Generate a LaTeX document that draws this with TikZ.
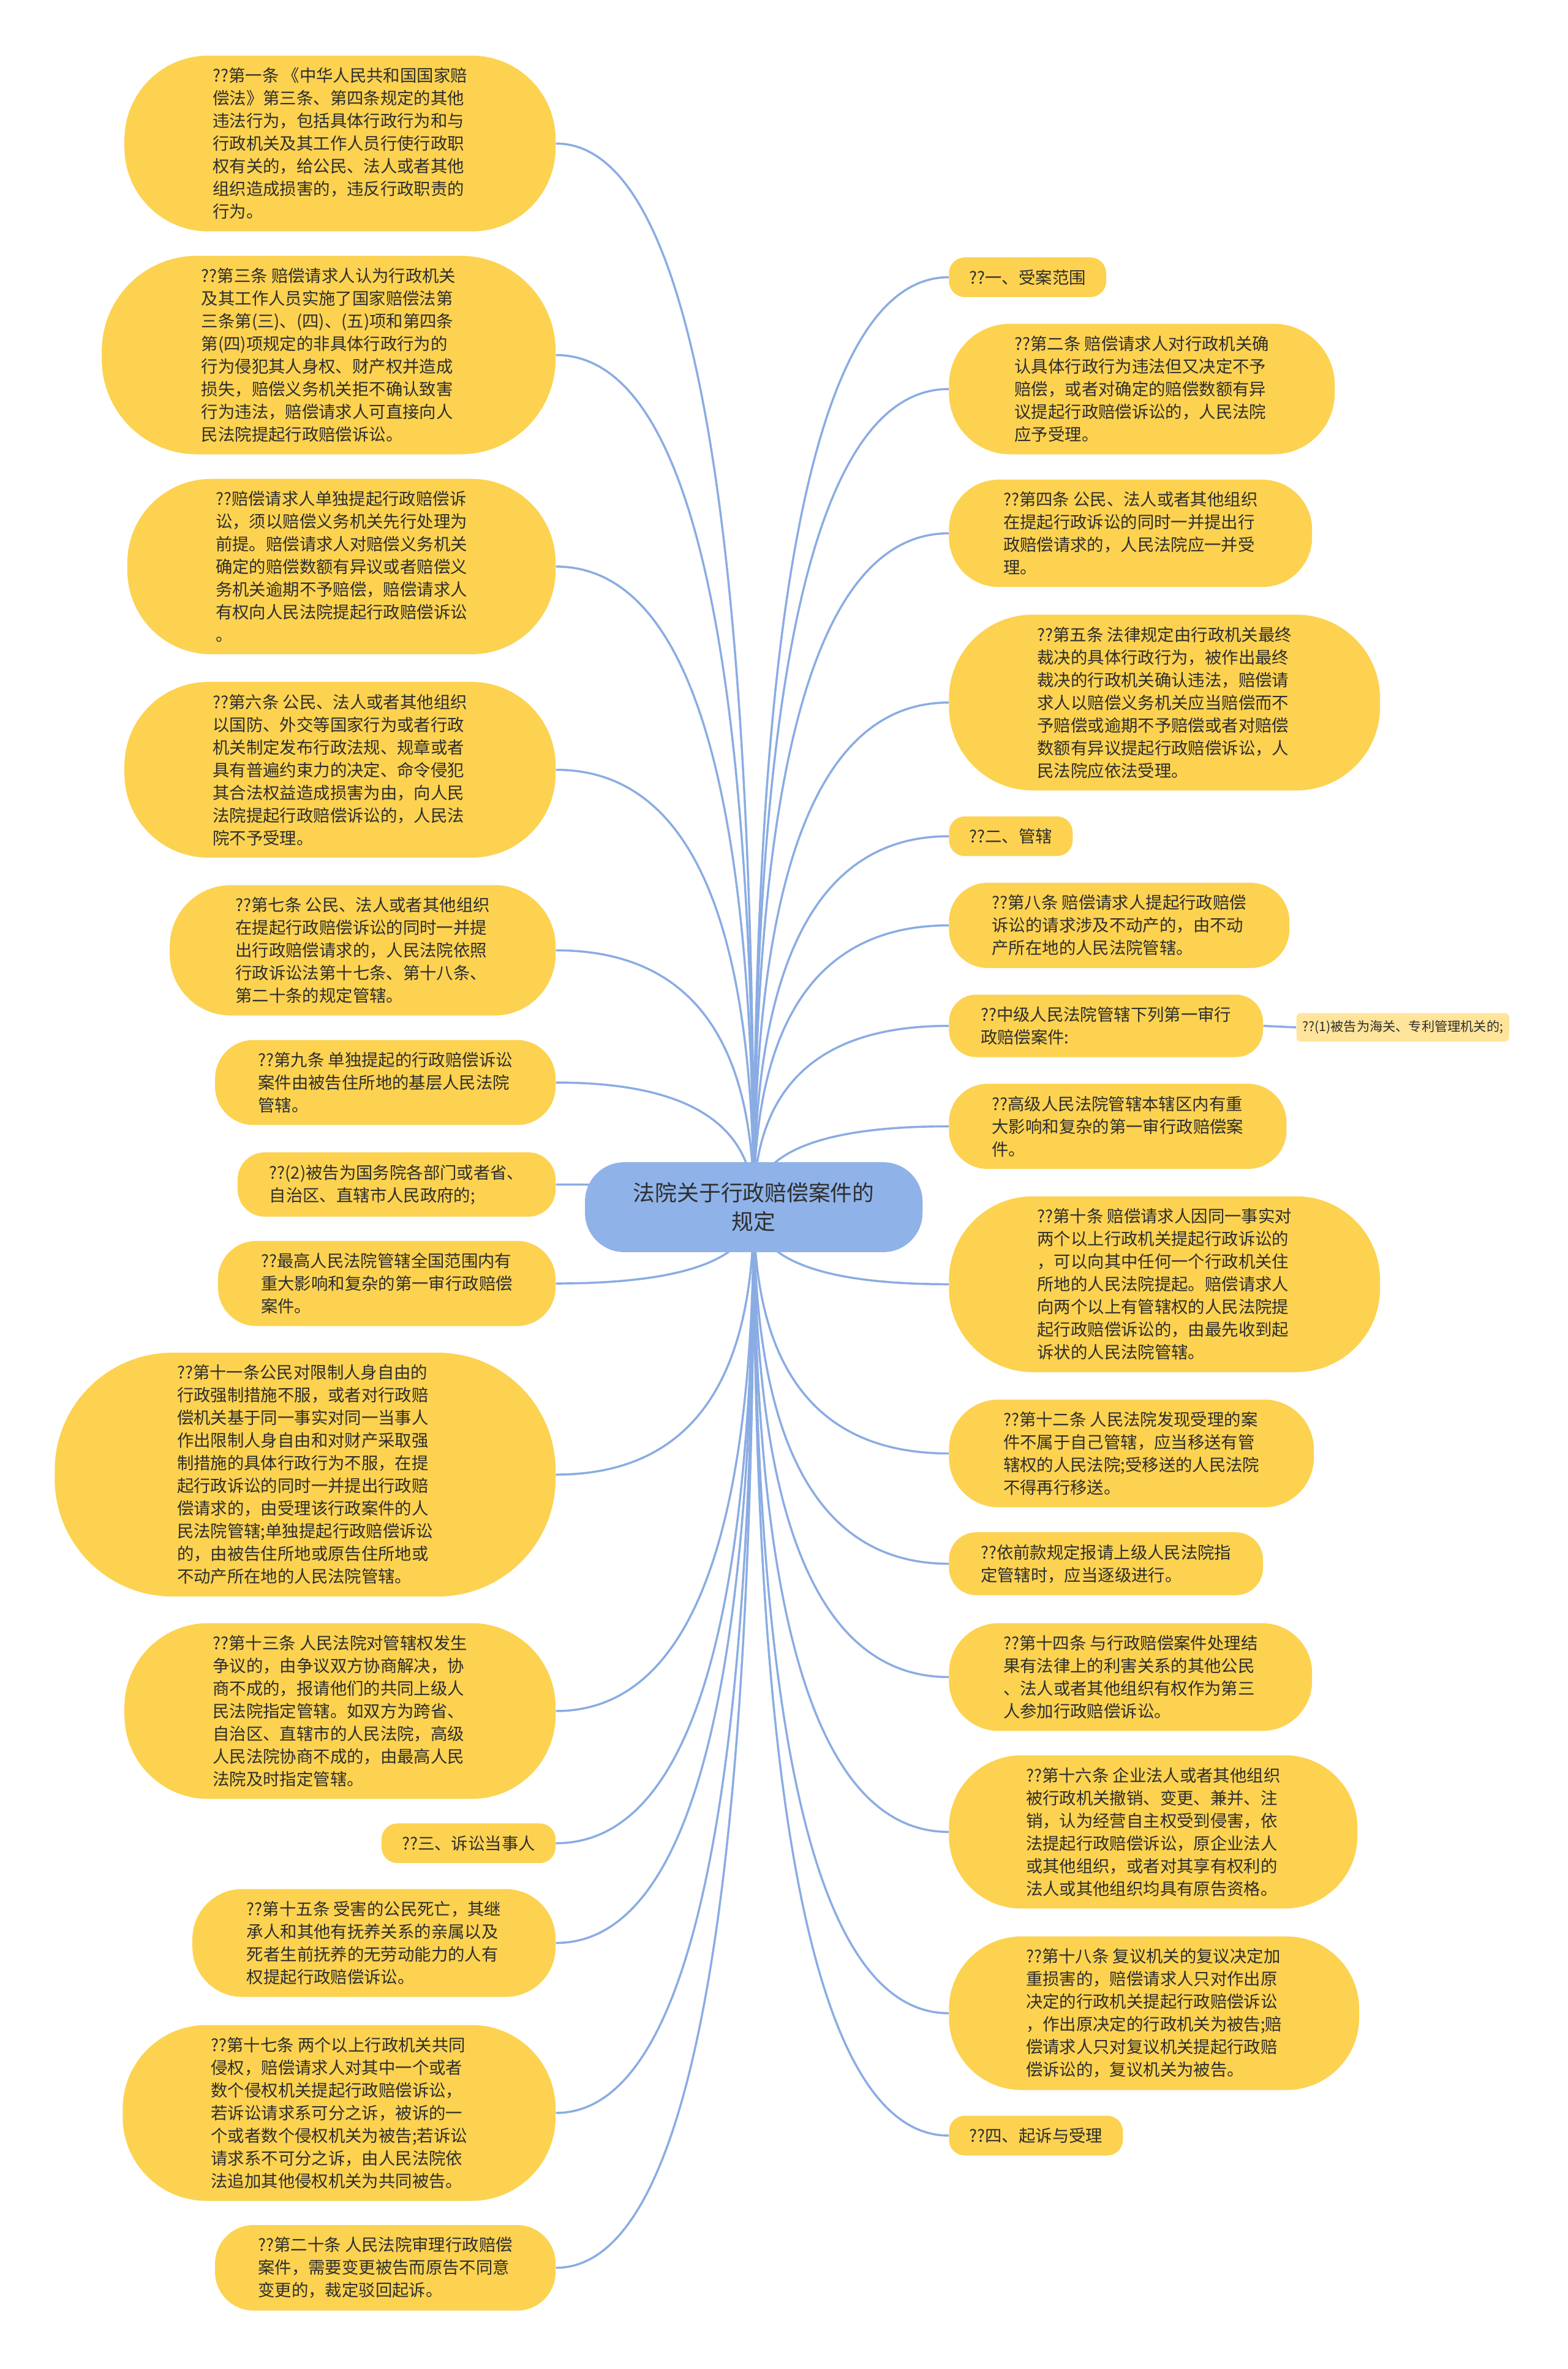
\documentclass[tikz,border=0pt]{standalone}
\usepackage{fontspec}
\setmainfont{Noto Sans CJK SC}
\usepackage{tikz}
\usetikzlibrary{calc,backgrounds}
\definecolor{topicfill}{HTML}{FCD250}
\definecolor{rootfill}{HTML}{8FB3E9}
\definecolor{linkblue}{HTML}{8AACE3}
\definecolor{leaffill}{HTML}{FFE59B}
\definecolor{textdark}{HTML}{2E2E2E}
% topic=<number of lines>
\tikzset{topic/.style={rectangle, fill=topicfill, text=textdark, align=left, inner xsep={7.5pt*#1+6pt}, inner ysep=8pt, rounded corners={7.5pt*#1+3pt}, font={\fontsize{11.1pt}{15pt}\selectfont}}}
\tikzstyle{rootbox} = [rectangle, fill=rootfill, text=textdark, align=center, inner xsep=32pt, inner ysep=13.5pt, rounded corners=26pt, font={\fontsize{14.5pt}{19pt}\selectfont}]
\tikzstyle{leaf} = [rectangle, rounded corners=3pt, fill=leaffill, text=textdark, inner xsep=4pt, inner ysep=5pt, font={\fontsize{8.6pt}{10pt}\selectfont}]
\tikzstyle{link} = [linkblue, line width=1.4pt]

\begin{document}
\begin{tikzpicture}[x=1pt, y=-1pt]
\useasboundingbox (0,0) rectangle (1038,1568);
\node[rootbox] (root) at (499,799) {法院关于行政赔偿案件的\\规定};
% left side
\node[topic=7, anchor=east] (l1) at (368,95) {??第一条 《中华人民共和国国家赔\\偿法》第三条、第四条规定的其他\\违法行为，包括具体行政行为和与\\行政机关及其工作人员行使行政职\\权有关的，给公民、法人或者其他\\组织造成损害的，违反行政职责的\\行为。};
\node[topic=8, anchor=east] (l2) at (368,235) {??第三条 赔偿请求人认为行政机关\\及其工作人员实施了国家赔偿法第\\三条第(三)、(四)、(五)项和第四条\\第(四)项规定的非具体行政行为的\\行为侵犯其人身权、财产权并造成\\损失，赔偿义务机关拒不确认致害\\行为违法，赔偿请求人可直接向人\\民法院提起行政赔偿诉讼。};
\node[topic=7, anchor=east] (l3) at (368,375) {??赔偿请求人单独提起行政赔偿诉\\讼，须以赔偿义务机关先行处理为\\前提。赔偿请求人对赔偿义务机关\\确定的赔偿数额有异议或者赔偿义\\务机关逾期不予赔偿，赔偿请求人\\有权向人民法院提起行政赔偿诉讼\\。};
\node[topic=7, anchor=east] (l4) at (368,509.5) {??第六条 公民、法人或者其他组织\\以国防、外交等国家行为或者行政\\机关制定发布行政法规、规章或者\\具有普遍约束力的决定、命令侵犯\\其合法权益造成损害为由，向人民\\法院提起行政赔偿诉讼的，人民法\\院不予受理。};
\node[topic=5, anchor=east] (l5) at (368,629) {??第七条 公民、法人或者其他组织\\在提起行政赔偿诉讼的同时一并提\\出行政赔偿请求的，人民法院依照\\行政诉讼法第十七条、第十八条、\\第二十条的规定管辖。};
\node[topic=3, anchor=east] (l6) at (368,716.5) {??第九条 单独提起的行政赔偿诉讼\\案件由被告住所地的基层人民法院\\管辖。};
\node[topic=2, anchor=east] (l7) at (368,784) {??(2)被告为国务院各部门或者省、\\自治区、直辖市人民政府的;};
\node[topic=3, anchor=east] (l8) at (368,849.5) {??最高人民法院管辖全国范围内有\\重大影响和复杂的第一审行政赔偿\\案件。};
\node[topic=10, anchor=east] (l9) at (368,976) {??第十一条公民对限制人身自由的\\行政强制措施不服，或者对行政赔\\偿机关基于同一事实对同一当事人\\作出限制人身自由和对财产采取强\\制措施的具体行政行为不服，在提\\起行政诉讼的同时一并提出行政赔\\偿请求的，由受理该行政案件的人\\民法院管辖;单独提起行政赔偿诉讼\\的，由被告住所地或原告住所地或\\不动产所在地的人民法院管辖。};
\node[topic=7, anchor=east] (l10) at (368,1132.5) {??第十三条 人民法院对管辖权发生\\争议的，由争议双方协商解决，协\\商不成的，报请他们的共同上级人\\民法院指定管辖。如双方为跨省、\\自治区、直辖市的人民法院，高级\\人民法院协商不成的，由最高人民\\法院及时指定管辖。};
\node[topic=1, anchor=east] (l11) at (368,1220) {??三、诉讼当事人};
\node[topic=4, anchor=east] (l12) at (368,1286) {??第十五条 受害的公民死亡，其继\\承人和其他有抚养关系的亲属以及\\死者生前抚养的无劳动能力的人有\\权提起行政赔偿诉讼。};
\node[topic=7, anchor=east] (l13) at (368,1398.5) {??第十七条 两个以上行政机关共同\\侵权，赔偿请求人对其中一个或者\\数个侵权机关提起行政赔偿诉讼，\\若诉讼请求系可分之诉，被诉的一\\个或者数个侵权机关为被告;若诉讼\\请求系不可分之诉，由人民法院依\\法追加其他侵权机关为共同被告。};
\node[topic=3, anchor=east] (l14) at (368,1501) {??第二十条 人民法院审理行政赔偿\\案件，需要变更被告而原告不同意\\变更的，裁定驳回起诉。};
% right side
\node[topic=1, anchor=west] (r1) at (628,183.5) {??一、受案范围};
\node[topic=5, anchor=west] (r2) at (628,257.5) {??第二条 赔偿请求人对行政机关确\\认具体行政行为违法但又决定不予\\赔偿，或者对确定的赔偿数额有异\\议提起行政赔偿诉讼的，人民法院\\应予受理。};
\node[topic=4, anchor=west] (r3) at (628,353) {??第四条 公民、法人或者其他组织\\在提起行政诉讼的同时一并提出行\\政赔偿请求的，人民法院应一并受\\理。};
\node[topic=7, anchor=west] (r4) at (628,465) {??第五条 法律规定由行政机关最终\\裁决的具体行政行为，被作出最终\\裁决的行政机关确认违法，赔偿请\\求人以赔偿义务机关应当赔偿而不\\予赔偿或逾期不予赔偿或者对赔偿\\数额有异议提起行政赔偿诉讼，人\\民法院应依法受理。};
\node[topic=1, anchor=west] (r5) at (628,553.5) {??二、管辖};
\node[topic=3, anchor=west] (r6) at (628,612.5) {??第八条 赔偿请求人提起行政赔偿\\诉讼的请求涉及不动产的，由不动\\产所在地的人民法院管辖。};
\node[topic=2, anchor=west] (r7) at (628,679) {??中级人民法院管辖下列第一审行\\政赔偿案件:};
\node[leaf, anchor=west] (r7a) at (858,680) {??(1)被告为海关、专利管理机关的;};
\node[topic=3, anchor=west] (r8) at (628,745.5) {??高级人民法院管辖本辖区内有重\\大影响和复杂的第一审行政赔偿案\\件。};
\node[topic=7, anchor=west] (r9) at (628,850) {??第十条 赔偿请求人因同一事实对\\两个以上行政机关提起行政诉讼的\\，可以向其中任何一个行政机关住\\所地的人民法院提起。赔偿请求人\\向两个以上有管辖权的人民法院提\\起行政赔偿诉讼的，由最先收到起\\诉状的人民法院管辖。};
\node[topic=4, anchor=west] (r10) at (628,962) {??第十二条 人民法院发现受理的案\\件不属于自己管辖，应当移送有管\\辖权的人民法院;受移送的人民法院\\不得再行移送。};
\node[topic=2, anchor=west] (r11) at (628,1035) {??依前款规定报请上级人民法院指\\定管辖时，应当逐级进行。};
\node[topic=4, anchor=west] (r12) at (628,1110) {??第十四条 与行政赔偿案件处理结\\果有法律上的利害关系的其他公民\\、法人或者其他组织有权作为第三\\人参加行政赔偿诉讼。};
\node[topic=6, anchor=west] (r13) at (628,1212.5) {??第十六条 企业法人或者其他组织\\被行政机关撤销、变更、兼并、注\\销，认为经营自主权受到侵害，依\\法提起行政赔偿诉讼，原企业法人\\或其他组织，或者对其享有权利的\\法人或其他组织均具有原告资格。};
\node[topic=6, anchor=west] (r14) at (628,1332.5) {??第十八条 复议机关的复议决定加\\重损害的，赔偿请求人只对作出原\\决定的行政机关提起行政赔偿诉讼\\，作出原决定的行政机关为被告;赔\\偿请求人只对复议机关提起行政赔\\偿诉讼的，复议机关为被告。};
\node[topic=1, anchor=west] (r15) at (628,1413.5) {??四、起诉与受理};
% links
\begin{scope}[on background layer]
\foreach \i in {1,...,14} {
  \draw[link] (root.center) .. controls ($(root.center)!0.667!(root.center |- l\i.east)$) and ($(l\i.east)!0.667!(root.center |- l\i.east)$) .. (l\i.east);
}
\foreach \i in {1,...,15} {
  \draw[link] (root.center) .. controls ($(root.center)!0.667!(root.center |- r\i.west)$) and ($(r\i.west)!0.667!(root.center |- r\i.west)$) .. (r\i.west);
}
\draw[link] (r7.east) -- (r7a.west);
\end{scope}
\end{tikzpicture}
\end{document}
